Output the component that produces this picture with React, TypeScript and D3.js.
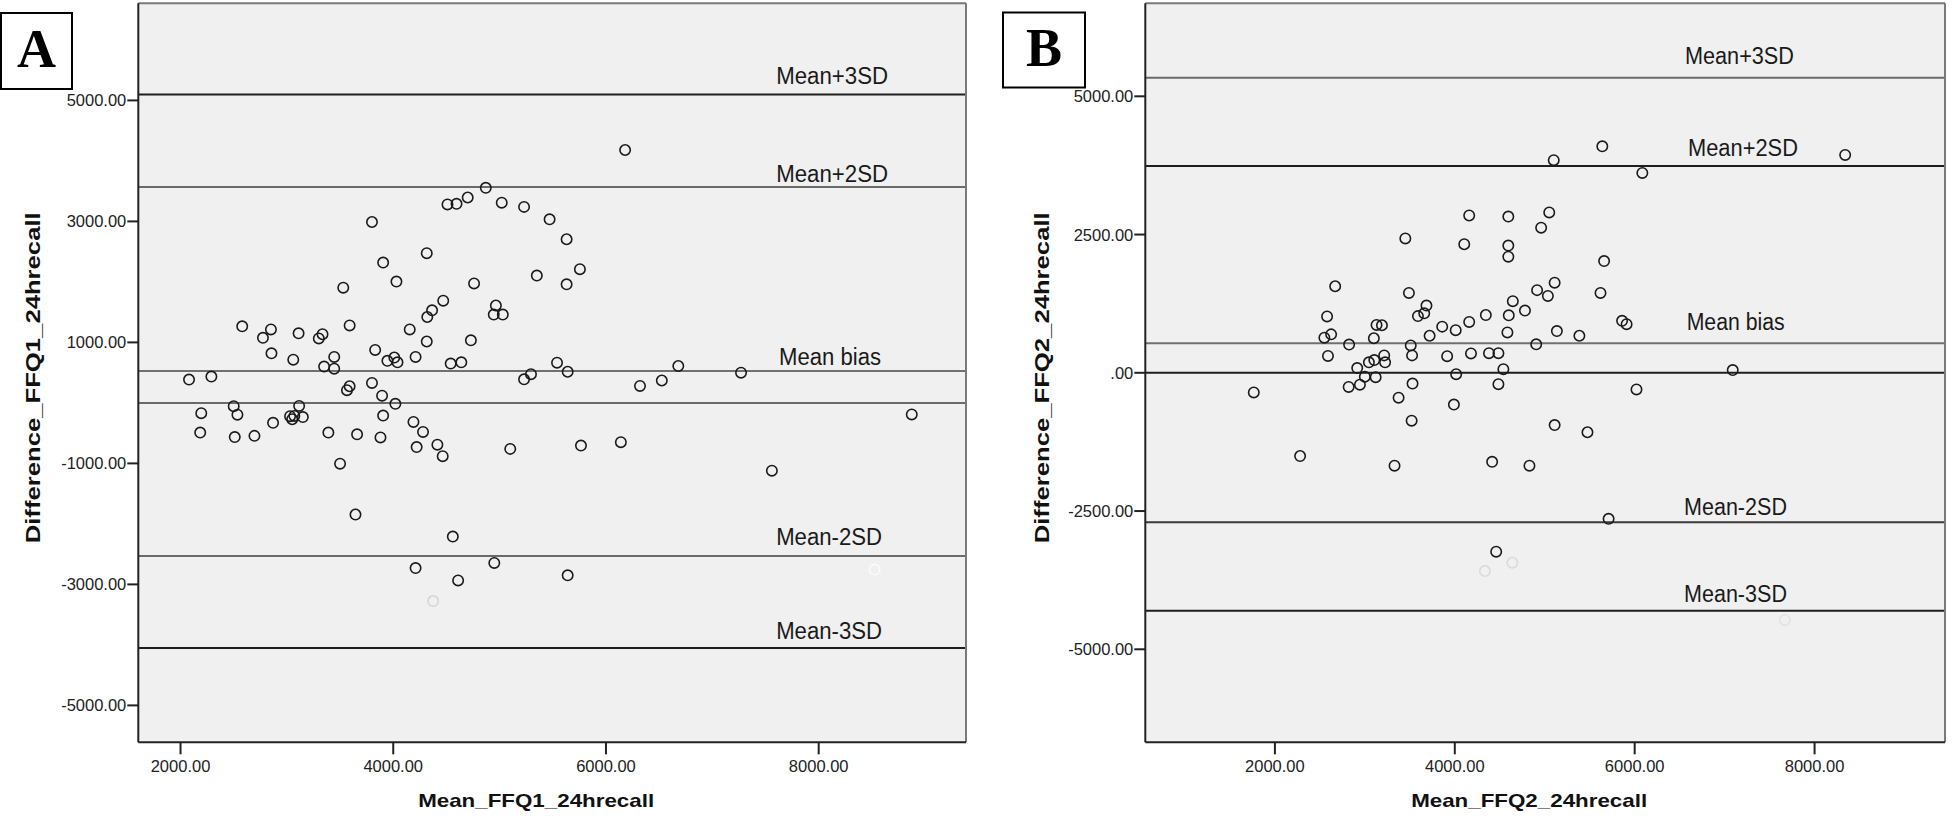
import React from "react";
import * as d3 from "d3";

// ---------- Panel A data (Mean vs Difference, FFQ1 vs 24h recall) ----------
const aMean = [
  2080, 2290, 2580, 2775, 2850, 2855, 3110, 3060, 3300, 3335,
  3350, 3445, 3445, 3530, 3590, 3565, 3590, 3800, 3830, 3800,
  3905, 4030, 3945, 4010, 4040, 3895, 4020, 4155, 4210, 4315,
  4315, 4320, 4365, 4470, 4540, 4640, 4510, 4595, 4700, 4870,
  4730, 4760, 4965, 4945, 5030, 2195, 2185, 2500, 2535, 2510,
  2695, 2870, 3030, 3050, 3070, 3115, 3150, 3390, 3500, 3660,
  3645, 3880, 3905, 4190, 4280, 4220, 4415, 4465, 4560, 4210,
  4610, 4950, 6180, 5020, 5230, 5470, 5630, 5350, 5630, 5755,
  5230, 5295, 5540, 5640, 6320, 6525, 6680, 7270, 8875, 5100,
  5765, 6140, 7560, 5640,
];
const aDiff = [
  385, 435, 1265, 1075, 1215, 820, 1150, 715, 1065, 1135,
  600, 760, 565, 1905, 1280, 210, 275, 2990, 875, 330,
  2320, 2005, 695, 750, 670, 120, -15, 1215, 760, 2475,
  1015, 1420, 1530, 1690, 650, 670, 3280, 3290, 3395, 3555,
  1035, 1975, 1610, 1460, 1460, -170, -490, -55, -195, -565,
  -545, -330, -220, -270, -215, -50, -235, -490, -1005, -520,
  -1845, -570, -210, -315, -480, -730, -690, -880, -2210, -2730,
  -2935, -2645, 4180, 3310, 3240, 3035, 2705, 2105, 1960, 2210,
  390, 475, 665, 515, 280, 370, 610, 500, -190, -760,
  -705, -650, -1120, -2850,
];
const aFaintMean = [4375, 8525];
const aFaintDiff = [-3275, -2755];

// ---------- Panel B data (FFQ2 vs 24h recall) ----------
const bMean = [
  4160, 3450, 4105, 2670, 3490, 2580, 3590, 3685, 3660, 4345,
  4160, 3130, 3190, 3860, 4010, 2550, 2625, 3100, 3720, 2825,
  3510, 2590, 3525, 3915, 4180, 4380, 3215, 3105, 3045, 3225,
  2915, 3000, 3120, 2945, 2820, 4015, 3530, 1765, 3375, 3990,
  3520, 2280, 3330, 4415, 5640, 5100, 8340, 6085, 4595, 5050,
  4960, 4595, 4595, 5660, 5110, 4915, 5035, 5620, 4645, 4780,
  4600, 5860, 5910, 4585, 5135, 5385, 4905, 4485, 4540, 4485,
  7090, 6020, 5110, 5475, 4830, 5710, 4460,
];
const bDiff = [
  2845, 2430, 2325, 1565, 1445, 1020, 1025, 1215, 1075, 1045,
  920, 865, 860, 835, 770, 635, 695, 625, 670, 510,
  495, 305, 315, 300, 350, 355, 315, 230, 190, 190,
  85, -70, -80, -215, -255, -25, -195, -355, -450, -575,
  -865, -1505, -1680, -1610, 4095, 3845, 3940, 3615, 2825, 2900,
  2625, 2300, 2100, 2020, 1630, 1495, 1390, 1445, 1295, 1125,
  1040, 940, 880, 730, 755, 670, 515, 355, 65, -205,
  50, -300, -945, -1075, -1680, -2640, -3235,
];
const bFaintMean = [4335, 4640, 7670];
const bFaintDiff = [-3585, -3435, -4470];

// ---------- Reference lines ----------
const refLabels = ["Mean+3SD", "Mean+2SD", "Mean bias", "Mean-2SD", "Mean-3SD"];
const aRefValues = [5096, 3569, 527, -2531, -4051];
const bRefValues = [5336, 3740, 533, -2703, -4302];
// annotation anchors (data coordinates)
const aLabelX = [7600, 7600, 7628, 7600, 7600];
const aLabelY = [5278, 3651, 621, -2354, -3896];
const bLabelX = [6559, 6592, 6578, 6548, 6548];
const bLabelY = [5584, 3920, 774, -2571, -4150];

// ---------- Ticks ----------
const aYTicks = [5000, 3000, 1000, -1000, -3000, -5000];
const bYTicks = [5000, 2500, 0, -2500, -5000];
const xTicks = [2000, 4000, 6000, 8000];

const FONT = "'Liberation Sans', Arial, sans-serif";

function spssFmt(v: number): string {
  const s = Math.abs(v).toFixed(2);
  const t = s.startsWith("0.") ? s.slice(1) : s;
  return (v < 0 ? "-" : "") + t;
}

type PanelProps = {
  letter: string;
  letterBox: [number, number, number, number];
  left: number;
  right: number;
  top: number;
  bottom: number;
  xDomain: [number, number];
  yDomain: [number, number];
  means: number[];
  diffs: number[];
  faintMeans: number[];
  faintDiffs: number[];
  faintColors: string[];
  refValues: number[];
  refColors: string[];
  zeroColor: string;
  labelX: number[];
  labelY: number[];
  labelWidths: number[];
  yTicks: number[];
  xTitle: string;
  yTitle: string;
  yTitleX: number;
};

function Panel(p: PanelProps) {
  const x = d3.scaleLinear().domain(p.xDomain).range([p.left, p.right]);
  const y = d3.scaleLinear().domain(p.yDomain).range([p.bottom, p.top]);
  const [bx, by, bw, bh] = p.letterBox;
  const cx = (p.left + p.right) / 2;
  return (
    <g>
      <rect x={p.left} y={p.top} width={p.right - p.left} height={p.bottom - p.top} fill="#f0f0f0" />
      {/* zero line */}
      <line x1={p.left} x2={p.right} y1={y(0)} y2={y(0)} stroke={p.zeroColor} strokeWidth={2} />
      {p.refValues.map((v, i) => (
        <line key={"r" + i} x1={p.left} x2={p.right} y1={y(v)} y2={y(v)} stroke={p.refColors[i]} strokeWidth={2} />
      ))}
      {refLabels.map((t, i) => (
        <text
          key={"l" + i}
          x={x(p.labelX[i])}
          y={y(p.labelY[i])}
          fontFamily={FONT}
          fontSize={23}
          fill="#1a1a1a"
          textLength={p.labelWidths[i]}
          lengthAdjust="spacingAndGlyphs"
        >
          {t}
        </text>
      ))}
      {p.faintMeans.map((m, i) => (
        <circle key={"f" + i} cx={x(m)} cy={y(p.faintDiffs[i])} r={5.2} fill="none" stroke={p.faintColors[i]} strokeWidth={1.6} />
      ))}
      {p.means.map((m, i) => (
        <circle key={"p" + i} cx={x(m)} cy={y(p.diffs[i])} r={5.2} fill="none" stroke="#1a1a1a" strokeWidth={1.6} />
      ))}
      {/* frame */}
      <line x1={p.left} x2={p.right} y1={p.top} y2={p.top} stroke="#7a7a7a" strokeWidth={2} />
      <line x1={p.right} x2={p.right} y1={p.top} y2={p.bottom} stroke="#7a7a7a" strokeWidth={2} />
      <line x1={p.left} x2={p.left} y1={p.top} y2={p.bottom} stroke="#222" strokeWidth={2} />
      <line x1={p.left} x2={p.right} y1={p.bottom} y2={p.bottom} stroke="#222" strokeWidth={2} />
      {/* y ticks */}
      {p.yTicks.map((t, i) => (
        <g key={"yt" + i}>
          <line x1={p.left - 11} x2={p.left} y1={y(t)} y2={y(t)} stroke="#222" strokeWidth={2} />
          <text x={p.left - 12} y={y(t) + 6} textAnchor="end" fontFamily={FONT} fontSize={16.5} fill="#222">
            {spssFmt(t)}
          </text>
        </g>
      ))}
      {/* x ticks */}
      {xTicks.map((t, i) => (
        <g key={"xt" + i}>
          <line x1={x(t)} x2={x(t)} y1={p.bottom} y2={p.bottom + 12} stroke="#222" strokeWidth={2} />
          <text x={x(t)} y={p.bottom + 30} textAnchor="middle" fontFamily={FONT} fontSize={16.5} fill="#222">
            {spssFmt(t)}
          </text>
        </g>
      ))}
      {/* axis titles */}
      <text
        x={cx - 16}
        y={806.5}
        textAnchor="middle"
        fontFamily={FONT}
        fontWeight="bold"
        fontSize={19}
        fill="#111"
        textLength={236}
        lengthAdjust="spacingAndGlyphs"
      >
        {p.xTitle}
      </text>
      <text
        transform={`translate(${p.yTitleX},${(p.top + p.bottom) / 2 + 5}) rotate(-90)`}
        textAnchor="middle"
        fontFamily={FONT}
        fontWeight="bold"
        fontSize={20.5}
        fill="#111"
        textLength={331}
        lengthAdjust="spacingAndGlyphs"
      >
        {p.yTitle}
      </text>
      {/* panel letter */}
      <rect x={bx} y={by} width={bw} height={bh} fill="#fff" stroke="#000" strokeWidth={2} />
      <text
        x={bx + bw / 2}
        y={by + bh - 22}
        textAnchor="middle"
        fontFamily="'Liberation Serif', 'Times New Roman', serif"
        fontWeight="bold"
        fontSize={54}
        fill="#000"
      >
        {p.letter}
      </text>
    </g>
  );
}

export default function App() {
  return (
    <svg
      width={1952}
      height={820}
      style={{ position: "absolute", left: 0, top: 0, background: "#fff" }}
    >
      <rect x={0} y={0} width={1952} height={820} fill="#fff" />
      <Panel
        letter="A"
        letterBox={[1, 13, 71, 76]}
        left={138.3}
        right={966}
        top={3.3}
        bottom={742.3}
        xDomain={[1603, 9385]}
        yDomain={[-5610, 6605]}
        means={aMean}
        diffs={aDiff}
        faintMeans={aFaintMean}
        faintDiffs={aFaintDiff}
        faintColors={["#d6d6d6", "#fafafa"]}
        refValues={aRefValues}
        refColors={["#1e1e1e", "#6a6a6a", "#707070", "#6a6a6a", "#1e1e1e"]}
        zeroColor="#6a6a6a"
        labelX={aLabelX}
        labelY={aLabelY}
        labelWidths={[112, 112, 102, 106, 106]}
        yTicks={aYTicks}
        xTitle="Mean_FFQ1_24hrecall"
        yTitle="Difference_FFQ1_24hrecall"
        yTitleX={40}
      />
      <Panel
        letter="B"
        letterBox={[1003, 12.5, 82, 75]}
        left={1145.3}
        right={1945}
        top={3.3}
        bottom={742.3}
        xDomain={[559, 9450]}
        yDomain={[-6682, 6682]}
        means={bMean}
        diffs={bDiff}
        faintMeans={bFaintMean}
        faintDiffs={bFaintDiff}
        faintColors={["#dadada", "#dadada", "#e2e2e2"]}
        refValues={bRefValues}
        refColors={["#6a6a6a", "#1e1e1e", "#707070", "#3a3a3a", "#1e1e1e"]}
        zeroColor="#1e1e1e"
        labelX={bLabelX}
        labelY={bLabelY}
        labelWidths={[109, 110, 98, 103, 103]}
        yTicks={bYTicks}
        xTitle="Mean_FFQ2_24hrecall"
        yTitle="Difference_FFQ2_24hrecall"
        yTitleX={1048.5}
      />
    </svg>
  );
}
